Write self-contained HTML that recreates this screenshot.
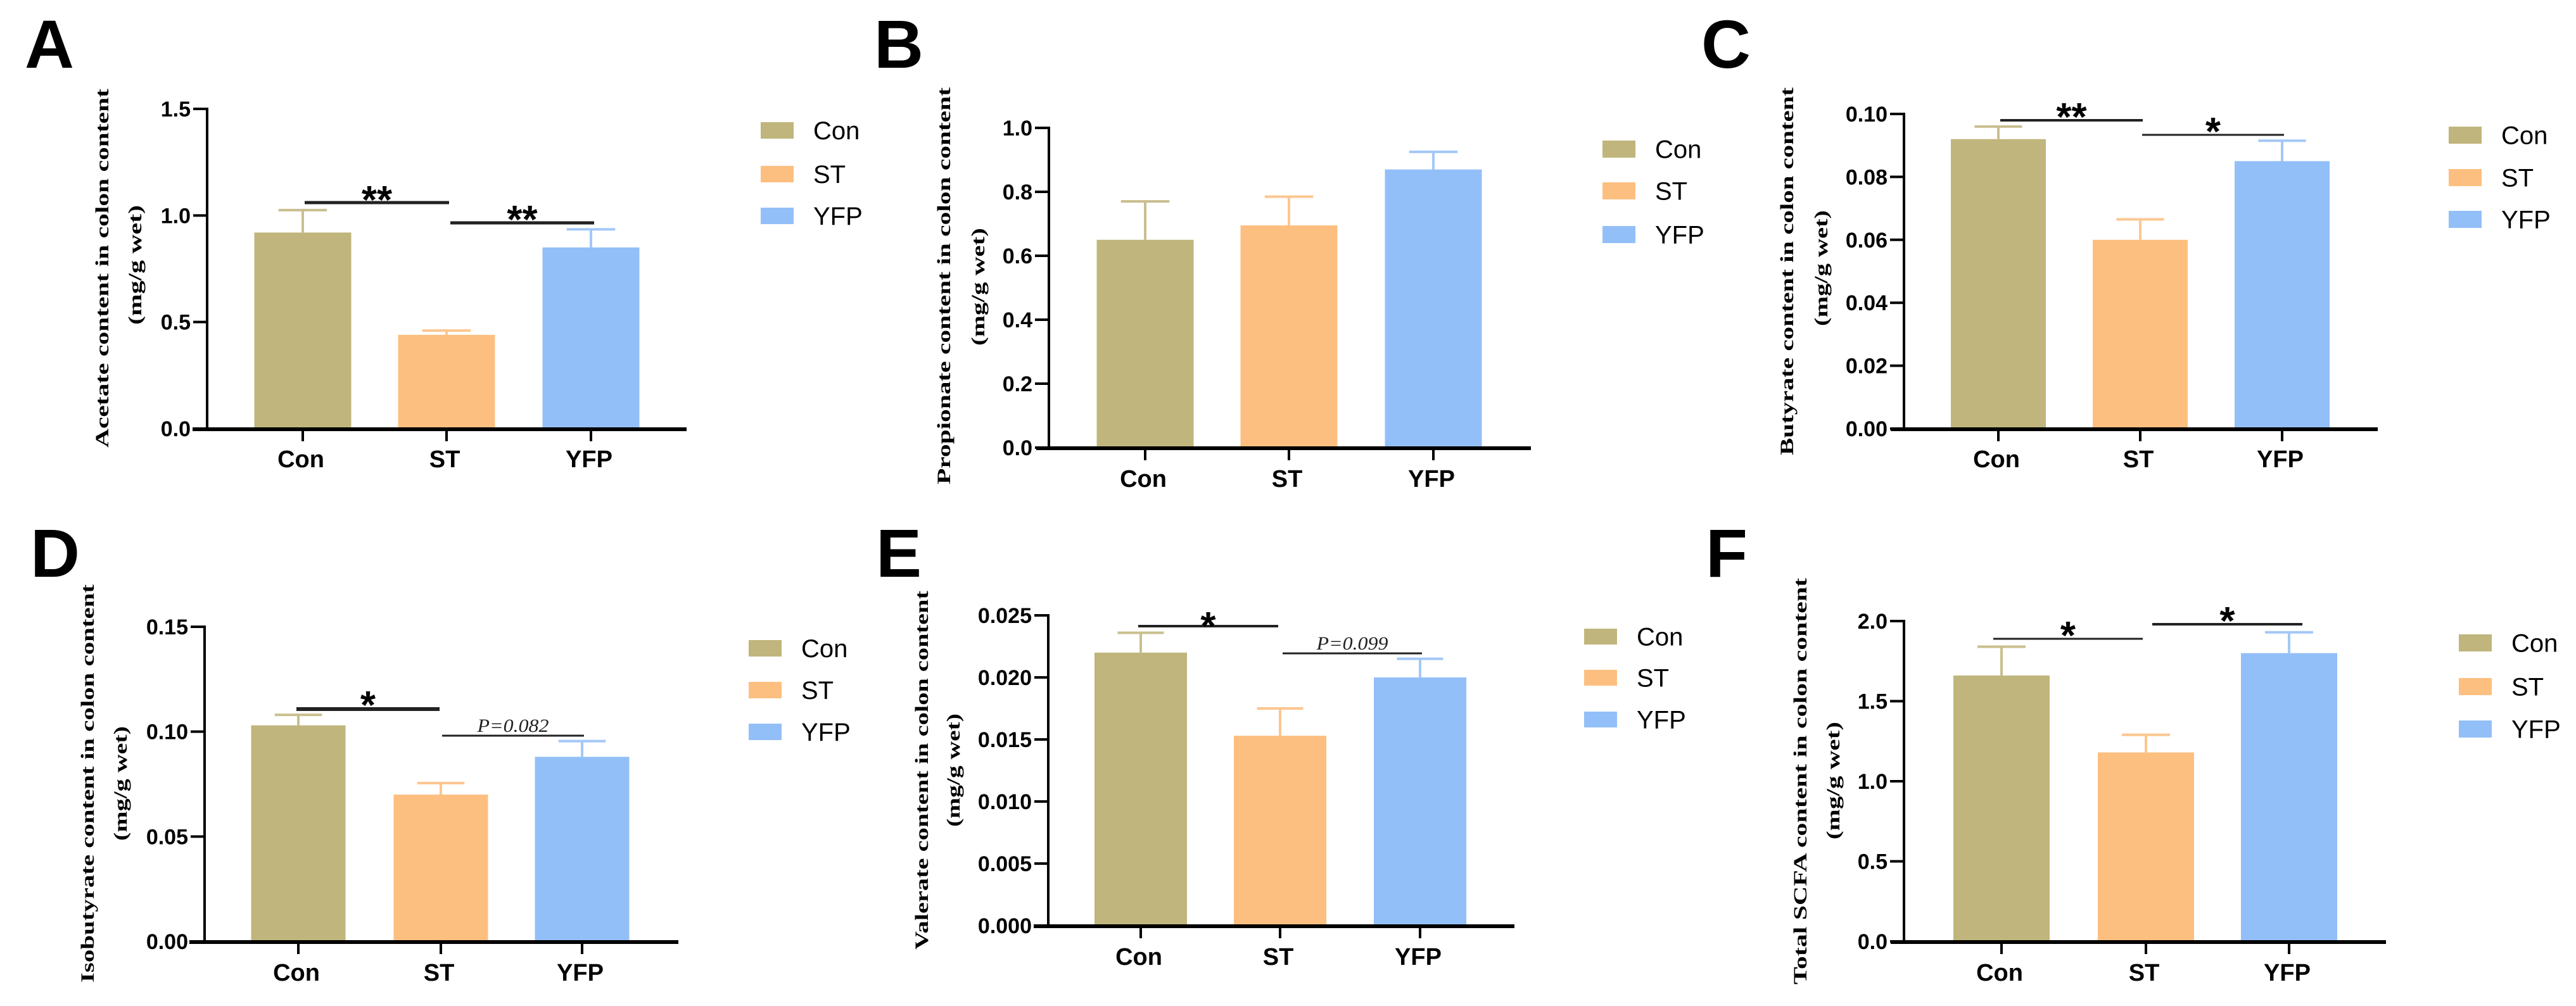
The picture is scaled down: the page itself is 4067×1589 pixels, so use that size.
<!DOCTYPE html>
<html><head><meta charset="utf-8"><style>
html,body{margin:0;padding:0;background:#fff}
svg{display:block}
</style></head><body>
<svg id="fig" width="4067" height="1589" viewBox="0 0 4067 1589" xmlns="http://www.w3.org/2000/svg"></svg>
<script>
const categories=["Con","ST","YFP"];
const acetateMeans=[0.92,0.44,0.85];
const acetateErrs=[0.105,0.02,0.085];
const acetateTicks=["0.0","0.5","1.0","1.5"];
const propionateMeans=[0.65,0.695,0.87];
const propionateErrs=[0.12,0.09,0.055];
const propionateTicks=["0.0","0.2","0.4","0.6","0.8","1.0"];
const butyrateMeans=[0.092,0.060,0.085];
const butyrateErrs=[0.004,0.0065,0.0065];
const butyrateTicks=["0.00","0.02","0.04","0.06","0.08","0.10"];
const isobutyrateMeans=[0.103,0.070,0.088];
const isobutyrateErrs=[0.005,0.0055,0.0075];
const isobutyrateTicks=["0.00","0.05","0.10","0.15"];
const valerateMeans=[0.022,0.0153,0.020];
const valerateErrs=[0.0016,0.0022,0.0015];
const valerateTicks=["0.000","0.005","0.010","0.015","0.020","0.025"];
const totalMeans=[1.66,1.18,1.80];
const totalErrs=[0.18,0.11,0.13];
const totalTicks=["0.0","0.5","1.0","1.5","2.0"];
const colors=["#c0b57c","#fdbf80","#93bff8"];
const capColors=["#c9bf8e","#fcc690","#a3c8f8"];

const NS="http://www.w3.org/2000/svg";
const svg=document.getElementById('fig');
function el(tag,attrs,parent,text){const e=document.createElementNS(NS,tag);for(const k in attrs)e.setAttribute(k,attrs[k]);if(text!==undefined)e.textContent=text;(parent||svg).appendChild(e);return e;}

const panels=[
 {letter:"A",lx:39,ly:107,means:acetateMeans,errs:acetateErrs,ticks:acetateTicks,ax:327,yTop:172,y0:677,xs:304,xe:1084,cx:[478,705,933],bw:153,legX:1201,legY:[193,262,328],legH:26,
  t1:"Acetate content in colon content",t1x:160,t1a:140,t1b:707,t2x:212,t2a:324,t2b:513,catY:724,
  sig:[{x1:481,x2:709,y:320,w:5,lab:"**",sy:301},{x1:711,x2:938,y:352,w:5,lab:"**",sy:332}]},
 {letter:"B",lx:1380,ly:107,means:propionateMeans,errs:propionateErrs,ticks:propionateTicks,ax:1656,yTop:202,y0:707,xs:1636,xe:2417,cx:[1808,2035,2263],bw:153,legX:2530,legY:[222,288,357],legH:27,
  t1:"Propionate content in colon content",t1x:1489,t1a:138,t1b:765,t2x:1543,t2a:360,t2b:546,catY:755,sig:[]},
 {letter:"C",lx:2686,ly:107,means:butyrateMeans,errs:butyrateErrs,ticks:butyrateTicks,ax:3006,yTop:180,y0:677,xs:2985,xe:3754,cx:[3155,3379,3603],bw:150,legX:3866,legY:[200,267,333],legH:27,
  t1:"Butyrate content in colon content",t1x:2820,t1a:138,t1b:719,t2x:2874,t2a:332,t2b:515,catY:724,
  sig:[{x1:3158,x2:3383,y:190,w:4,lab:"**",sy:170},{x1:3382,x2:3606,y:213,w:3,lab:"*",sy:193}]},
 {letter:"D",lx:48,ly:911,means:isobutyrateMeans,errs:isobutyrateErrs,ticks:isobutyrateTicks,ax:323,yTop:990,y0:1487,xs:299,xe:1071,cx:[471,696,919],bw:149,legX:1182,legY:[1011,1077,1143],legH:26,
  t1:"Isobutyrate content in colon content",t1x:137,t1a:923,t1b:1552,t2x:189,t2a:1147,t2b:1328,catY:1535,
  sig:[{x1:468,x2:694,y:1120,w:6,lab:"*",sy:1099},{x1:698,x2:922,y:1162,w:3,p:"P=0.082",sy:1145}]},
 {letter:"E",lx:1383,ly:911,means:valerateMeans,errs:valerateErrs,ticks:valerateTicks,ax:1655,yTop:972,y0:1462,xs:1632,xe:2391,cx:[1801,2021,2242],bw:146,legX:2501,legY:[993,1058,1124],legH:25,
  t1:"Valerate content in colon content",t1x:1454,t1a:933,t1b:1500,t2x:1504,t2a:1127,t2b:1306,catY:1510,
  sig:[{x1:1797,x2:2018,y:989,w:4,lab:"*",sy:974},{x1:2025,x2:2245,y:1032,w:3,p:"P=0.099",sy:1015}]},
 {letter:"F",lx:2693,ly:911,means:totalMeans,errs:totalErrs,ticks:totalTicks,ax:3006,yTop:981,y0:1487,xs:2985,xe:3767,cx:[3160,3388,3614],bw:152,legX:3882,legY:[1002,1071,1138],legH:27,
  t1:"Total SCFA content in colon content",t1x:2841,t1a:913,t1b:1555,t2x:2893,t2a:1140,t2b:1326,catY:1535,
  sig:[{x1:3147,x2:3383,y:1009,w:3,lab:"*",sy:989},{x1:3398,x2:3635,y:986,w:4,lab:"*",sy:966}]}
];

panels.forEach(p=>{
  const g=el('g',{});
  
  
  const maxV=parseFloat(p.ticks[p.ticks.length-1]);
  const yScale=v=>p.y0-(v/maxV)*(p.y0-p.yTop);
  const lt=el('text',{x:p.lx,y:p.ly,'font-family':'Liberation Sans, sans-serif','font-weight':'bold','font-size':108,fill:'#000'},g,p.letter);
  
  
  // bars
  p.means.forEach((m,i)=>{
    const top=yScale(m), eTop=yScale(m+p.errs[i]);
    const r=el('rect',{x:p.cx[i]-p.bw/2,y:top,width:p.bw,height:p.y0-top,fill:colors[i]},g);
    
    
    const eb=el('path',{d:`M${p.cx[i]} ${top} V${eTop} M${p.cx[i]-p.bw/4} ${eTop} H${p.cx[i]+p.bw/4}`,stroke:capColors[i],'stroke-width':4,fill:'none'},g);
    
    
  });
  // y axis
  const ya=el('line',{x1:p.ax,y1:p.yTop-2,x2:p.ax,y2:p.y0,stroke:'#000','stroke-width':4},g);
  
  
  p.ticks.forEach(t=>{
    const y=yScale(parseFloat(t));
    const tk=el('line',{x1:p.ax-22,y1:y,x2:p.ax,y2:y,stroke:'#000','stroke-width':4},g);
    
    
    const tl=el('text',{x:p.ax-26,y:y+12,'text-anchor':'end','font-family':'Liberation Sans, sans-serif','font-weight':'bold','font-size':34,fill:'#000'},g,t);
    
    
  });
  const xa=el('line',{x1:p.xs,y1:p.y0+1,x2:p.xe,y2:p.y0+1,stroke:'#000','stroke-width':6},g);
  
  
  categories.forEach((c,i)=>{
    const tk=el('line',{x1:p.cx[i],y1:p.y0,x2:p.cx[i],y2:p.y0+20,stroke:'#000','stroke-width':4},g);
    
    
    const cl=el('text',{x:p.cx[i]-3,y:p.catY+14,'text-anchor':'middle','font-family':'Liberation Sans, sans-serif','font-weight':'bold','font-size':38,fill:'#000'},g,c);
    
    
    const ls=el('rect',{x:p.legX,y:p.legY[i],width:52,height:p.legH,fill:colors[i]},g);
    
    
    const lx=el('text',{x:p.legX+83,y:p.legY[i]+p.legH/2+14,'font-family':'Liberation Sans, sans-serif','font-size':40,fill:'#000'},g,c);
    
    
  });
  // axis title
  const c1=(p.t1a+p.t1b)/2, c2=(p.t2a+p.t2b)/2;
  const t1=el('text',{x:0,y:0,transform:`translate(${p.t1x+11},${c1}) rotate(-90)`,'text-anchor':'middle','font-family':'Liberation Serif, serif','font-weight':'bold','font-size':30,textLength:p.t1b-p.t1a,lengthAdjust:'spacingAndGlyphs',fill:'#000'},g,p.t1);
  
  
  const t2=el('text',{x:0,y:0,transform:`translate(${p.t2x+11},${c2}) rotate(-90)`,'text-anchor':'middle','font-family':'Liberation Serif, serif','font-weight':'bold','font-size':30,textLength:p.t2b-p.t2a,lengthAdjust:'spacingAndGlyphs',fill:'#000'},g,"(mg/g wet)");
  
  
  // significance
  p.sig.forEach(s=>{
    const sl=el('line',{x1:s.x1,y1:s.y,x2:s.x2,y2:s.y,stroke:'#222','stroke-width':s.w},g);
    
    
    const mx=(s.x1+s.x2)/2;
    if(s.p){
      const pt=el('text',{x:mx,y:s.sy+11,'text-anchor':'middle','font-family':'Liberation Serif, serif','font-style':'italic','font-size':30,textLength:113,lengthAdjust:'spacingAndGlyphs',fill:'#222'},g,s.p);
      
      
    } else {
      const st=el('text',{x:mx,y:s.sy+36,'text-anchor':'middle','font-family':'Liberation Sans, sans-serif','font-weight':'bold','font-size':62,fill:'#000'},g,s.lab);
      
      
    }
  });
});
</script>
</body></html>
